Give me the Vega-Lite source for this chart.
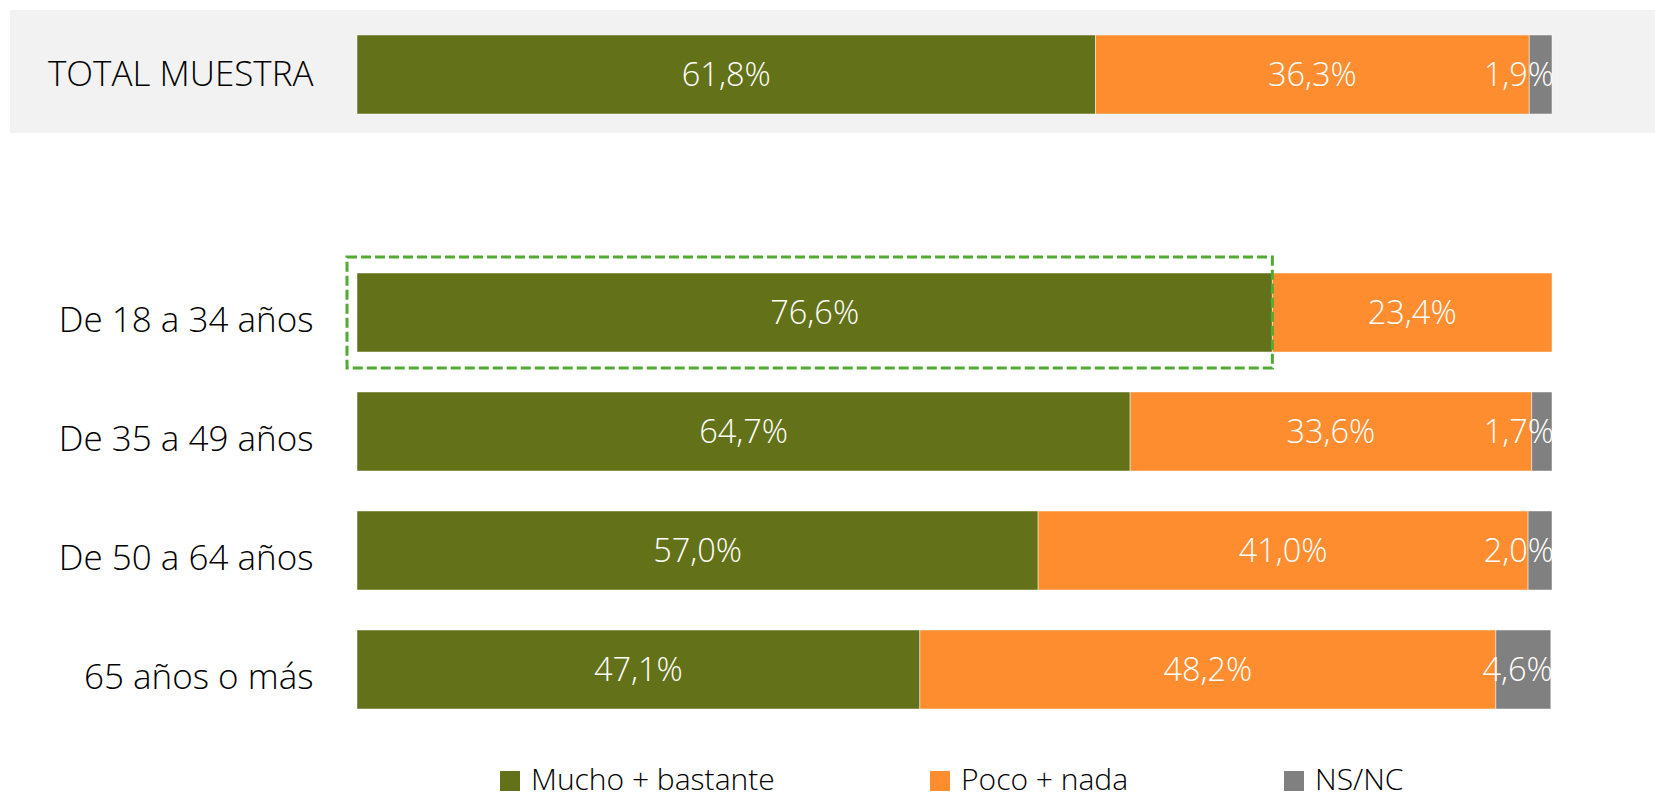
{
  "$schema": "https://vega.github.io/schema/vega-lite/v6.json",
  "width": 1195,
  "height": 714,
  "autosize": "none",
  "padding": {"left": 357, "top": 15, "right": 103, "bottom": 66},
  "background": "#ffffff",
  "config": {
    "view": {"stroke": null},
    "font": "Open Sans"
  },
  "datasets": {
    "encuesta": [
      {"grupo": "TOTAL MUESTRA", "respuesta": "Mucho + bastante", "valor": 61.8},
      {"grupo": "TOTAL MUESTRA", "respuesta": "Poco + nada", "valor": 36.3},
      {"grupo": "TOTAL MUESTRA", "respuesta": "NS/NC", "valor": 1.9},
      {"grupo": "De 18 a 34 años", "respuesta": "Mucho + bastante", "valor": 76.6},
      {"grupo": "De 18 a 34 años", "respuesta": "Poco + nada", "valor": 23.4},
      {"grupo": "De 35 a 49 años", "respuesta": "Mucho + bastante", "valor": 64.7},
      {"grupo": "De 35 a 49 años", "respuesta": "Poco + nada", "valor": 33.6},
      {"grupo": "De 35 a 49 años", "respuesta": "NS/NC", "valor": 1.7},
      {"grupo": "De 50 a 64 años", "respuesta": "Mucho + bastante", "valor": 57.0},
      {"grupo": "De 50 a 64 años", "respuesta": "Poco + nada", "valor": 41.0},
      {"grupo": "De 50 a 64 años", "respuesta": "NS/NC", "valor": 2.0},
      {"grupo": "65 años o más", "respuesta": "Mucho + bastante", "valor": 47.1},
      {"grupo": "65 años o más", "respuesta": "Poco + nada", "valor": 48.2},
      {"grupo": "65 años o más", "respuesta": "NS/NC", "valor": 4.6}
    ]
  },
  "data": {"name": "encuesta"},
  "transform": [
    {"calculate": "indexof(['Mucho + bastante','Poco + nada','NS/NC'], datum.respuesta)", "as": "orden"},
    {"stack": "valor", "groupby": ["grupo"], "sort": [{"field": "orden", "order": "ascending"}], "as": ["v0", "v1"]},
    {"calculate": "(datum.v0 + datum.v1) / 2", "as": "mid"},
    {"calculate": "replace(format(datum.valor, '.1f'), '.', ',') + '%'", "as": "etiqueta"}
  ],
  "encoding": {
    "y": {
      "field": "grupo",
      "type": "nominal",
      "scale": {
        "domain": ["TOTAL MUESTRA", "_gap", "De 18 a 34 años", "De 35 a 49 años", "De 50 a 64 años", "65 años o más"],
        "paddingInner": 0.336,
        "paddingOuter": 0.168
      },
      "axis": {
        "title": null,
        "ticks": false,
        "domain": false,
        "labelPadding": 44,
        "labelFontSize": 35,
        "labelFont": "Open Sans",
        "labelFontWeight": 300,
        "labelColor": "#000000",
        "labelLimit": 400,
        "labelOffset": {"condition": {"test": "datum.value == 'TOTAL MUESTRA'", "value": 0}, "value": 8},
        "labelExpr": "datum.value == '_gap' ? '' : datum.value",
        "zindex": 1
      }
    }
  },
  "layer": [
    {
      "transform": [
        {"filter": "datum.grupo == 'TOTAL MUESTRA'"},
        {"aggregate": [{"op": "min", "field": "v0", "as": "ini"}, {"op": "max", "field": "v1", "as": "fin"}], "groupby": ["grupo"]}
      ],
      "mark": {"type": "bar", "color": "#f2f2f2", "height": 123, "xOffset": -347, "x2Offset": 103, "yOffset": -3, "clip": false},
      "encoding": {
        "x": {"field": "ini", "type": "quantitative", "scale": {"domain": [0, 100], "nice": false}, "axis": null},
        "x2": {"field": "fin"}
      }
    },
    {
      "mark": {"type": "bar", "stroke": "#ffffff", "strokeWidth": 0.8, "strokeOpacity": 0.6},
      "encoding": {
        "x": {"field": "v0", "type": "quantitative", "axis": null},
        "x2": {"field": "v1"},
        "color": {
          "field": "respuesta",
          "type": "nominal",
          "scale": {"domain": ["Mucho + bastante", "Poco + nada", "NS/NC"], "range": ["#637219", "#FD8D2F", "#808080"]},
          "legend": {
            "title": null,
            "orient": "none",
            "direction": "horizontal",
            "legendX": 138,
            "legendY": 751,
            "symbolType": "square",
            "symbolSize": 400,
            "symbolStrokeWidth": 0,
            "labelFontSize": 30,
            "labelFont": "Open Sans",
            "labelFontWeight": 300,
            "labelColor": "#000000",
            "labelOffset": 6,
            "columnPadding": 150,
            "labelLimit": 400,
            "padding": 0
          }
        }
      }
    },
    {
      "transform": [{"filter": "datum.grupo == 'De 18 a 34 años' && datum.respuesta == 'Mucho + bastante'"}],
      "mark": {"type": "bar", "fill": "transparent", "stroke": "#52A934", "strokeWidth": 3, "strokeDash": [10, 4], "height": 111, "xOffset": -10, "clip": false},
      "encoding": {
        "x": {"field": "v0", "type": "quantitative"},
        "x2": {"field": "v1"}
      }
    },
    {
      "transform": [{"filter": "datum.respuesta != 'NS/NC'"}],
      "mark": {"type": "text", "color": "#ffffff", "fontSize": 32.5, "font": "Open Sans", "fontWeight": 300, "align": "center", "baseline": "middle", "dy": 1},
      "encoding": {
        "x": {"field": "mid", "type": "quantitative"},
        "text": {"field": "etiqueta", "type": "nominal"}
      }
    },
    {
      "transform": [{"filter": "datum.respuesta == 'NS/NC'"}],
      "mark": {"type": "text", "color": "#ffffff", "fontSize": 32.5, "font": "Open Sans", "fontWeight": 300, "align": "right", "baseline": "middle", "dx": 2, "dy": 1, "clip": true},
      "encoding": {
        "x": {"field": "v1", "type": "quantitative"},
        "text": {"field": "etiqueta", "type": "nominal"}
      }
    }
  ]
}
